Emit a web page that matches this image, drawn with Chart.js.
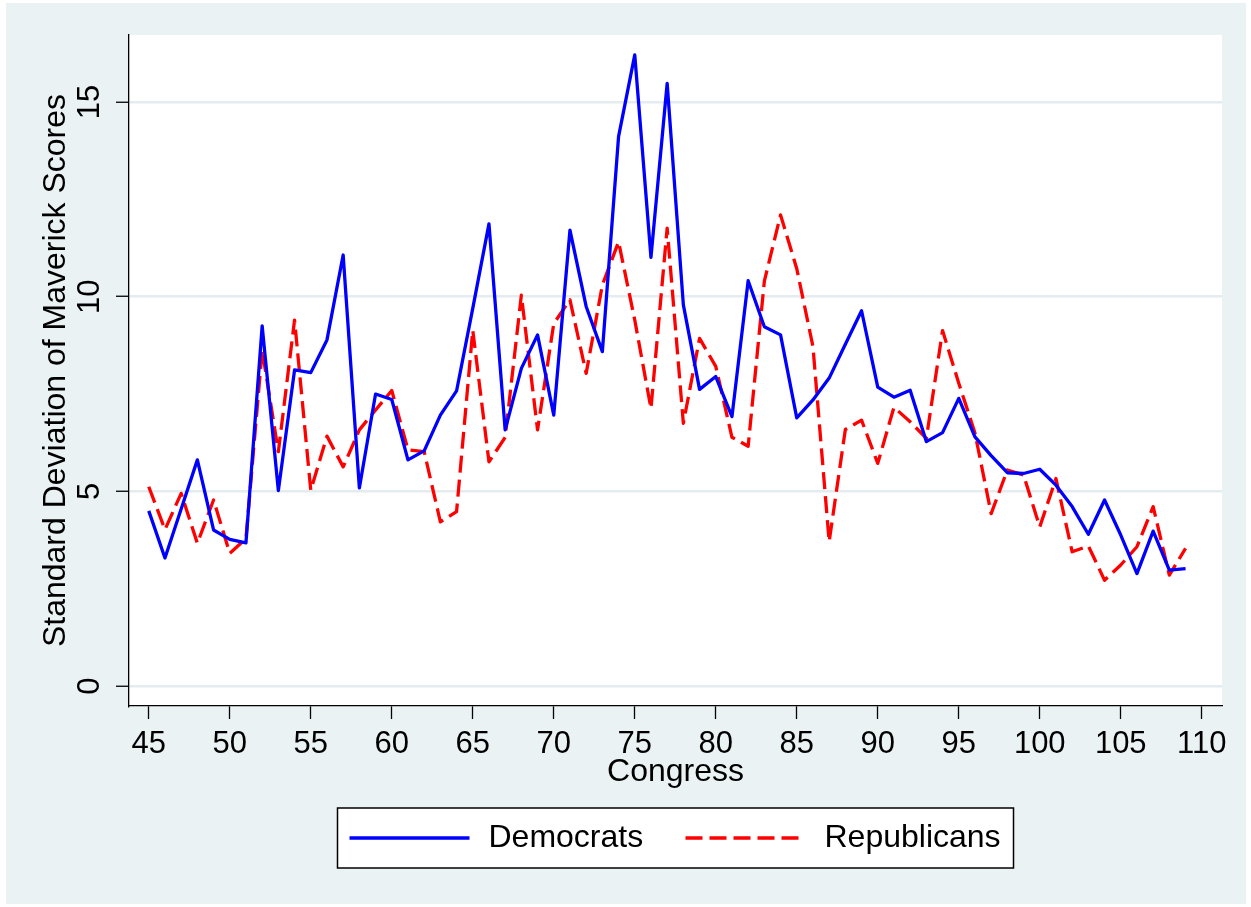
<!DOCTYPE html>
<html>
<head>
<meta charset="utf-8">
<script src="https://cdn.jsdelivr.net/npm/chart.js@4.4.1/dist/chart.umd.min.js"></script>
<style>
  html, body { margin: 0; padding: 0; background: #fff; }
  #chart { display: block; }
</style>
</head>
<body>
<canvas id="chart" width="1251" height="907"></canvas>
<script>
const congress = [45, 46, 47, 48, 49, 50, 51, 52, 53, 54, 55, 56, 57, 58, 59, 60, 61, 62, 63, 64,
  65, 66, 67, 68, 69, 70, 71, 72, 73, 74, 75, 76, 77, 78, 79, 80, 81, 82, 83, 84,
  85, 86, 87, 88, 89, 90, 91, 92, 93, 94, 95, 96, 97, 98, 99, 100, 101, 102, 103, 104,
  105, 106, 107, 108, 109];

const democrats = [4.50, 3.29, 4.55, 5.81, 4.01, 3.77, 3.68, 9.25, 5.02, 8.12, 8.05, 8.89, 11.07, 5.09, 7.50, 7.36, 5.81, 6.04, 6.96, 7.58,
  9.70, 11.87, 6.58, 8.16, 9.02, 6.96, 11.71, 9.75, 8.59, 14.11, 16.21, 11.01, 15.48, 9.79, 7.62, 7.95, 6.92, 10.41, 9.23, 9.02,
  6.89, 7.35, 7.91, 8.78, 9.64, 7.68, 7.42, 7.60, 6.28, 6.51, 7.39, 6.40, 5.92, 5.48, 5.46, 5.57, 5.16, 4.61, 3.90, 4.78,
  3.88, 2.89, 3.98, 2.98, 3.02];

const republicans = [5.12, 4.02, 4.95, 3.67, 4.78, 3.41, 3.79, 8.63, 6.02, 9.40, 5.03, 6.42, 5.63, 6.58, 7.09, 7.59, 6.07, 6.02, 4.22, 4.48,
  9.14, 5.76, 6.39, 10.04, 6.58, 9.31, 9.92, 8.03, 10.30, 11.41, 9.40, 7.13, 11.76, 6.75, 8.93, 8.21, 6.39, 6.16, 10.40, 12.10,
  10.72, 8.72, 3.71, 6.59, 6.83, 5.72, 7.16, 6.79, 6.36, 9.13, 7.78, 6.50, 4.43, 5.55, 5.42, 4.09, 5.33, 3.45, 3.60, 2.72,
  3.11, 3.58, 4.61, 2.85, 3.54];

const xTicks = [45, 50, 55, 60, 65, 70, 75, 80, 85, 90, 95, 100, 105, 110];
const yTicks = [0, 5, 10, 15];

const FONT = '"Liberation Sans", Arial, Helvetica, sans-serif';

const toPoints = values => congress.map((c, i) => ({ x: c, y: values[i] }));

const background = {
  id: 'background',
  beforeDraw(chart) {
    const { ctx, chartArea } = chart;
    ctx.save();
    ctx.fillStyle = '#ffffff';
    ctx.fillRect(0, 0, chart.width, chart.height);
    ctx.fillStyle = '#eaf2f3';
    ctx.fillRect(6, 3, chart.width - 11, chart.height - 6);
    ctx.fillStyle = '#ffffff';
    ctx.fillRect(chartArea.left, chartArea.top, chartArea.right - chartArea.left, chartArea.bottom - chartArea.top);
    ctx.restore();
  }
};

// Stata-style boxed legend under the x axis title
const legendBox = {
  id: 'legendBox',
  afterDraw(chart) {
    const { ctx, chartArea } = chart;
    const cx = (chartArea.left + chartArea.right) / 2;
    const w = 676, h = 60, top = 808;
    const left = cx - w / 2;
    const offsets = [12, 348];
    ctx.save();
    ctx.fillStyle = '#ffffff';
    ctx.fillRect(left, top, w, h);
    ctx.strokeStyle = '#000000';
    ctx.lineWidth = 1.5;
    ctx.strokeRect(left, top, w, h);
    ctx.font = '32px ' + FONT;
    ctx.textBaseline = 'middle';
    ctx.textAlign = 'left';
    chart.data.datasets.forEach((ds, i) => {
      const x = left + offsets[i];
      const y = top + h / 2;
      ctx.strokeStyle = ds.borderColor;
      ctx.lineWidth = ds.borderWidth;
      ctx.setLineDash(ds.borderDash || []);
      ctx.beginPath();
      ctx.moveTo(x, y);
      ctx.lineTo(x + 120, y);
      ctx.stroke();
      ctx.setLineDash([]);
      ctx.fillStyle = '#000000';
      ctx.fillText(ds.label, x + 139, y);
    });
    ctx.restore();
  }
};

const ctx = document.querySelector('#chart').getContext('2d');

new Chart(ctx, {
  type: 'line',
  data: {
    datasets: [{
      label: 'Democrats',
      data: toPoints(democrats),
      borderColor: '#0000ff',
      borderWidth: 3.3,
      pointRadius: 0,
      tension: 0,
      borderJoinStyle: 'round'
    }, {
      label: 'Republicans',
      data: toPoints(republicans),
      borderColor: '#ff0000',
      borderWidth: 3.3,
      borderDash: [17, 7],
      pointRadius: 0,
      tension: 0,
      borderJoinStyle: 'round'
    }]
  },
  options: {
    responsive: false,
    animation: false,
    layout: { padding: { left: 0, top: 35, right: 29, bottom: 116 } },
    plugins: {
      legend: { display: false },
      tooltip: { enabled: false }
    },
    scales: {
      x: {
        type: 'linear',
        min: 43.78,
        max: 111.25,
        afterBuildTicks: axis => { axis.ticks = xTicks.map(v => ({ value: v })); },
        afterFit: axis => { axis.height = 85; },
        border: { color: '#000000', width: 1.3 },
        grid: { drawOnChartArea: false, drawTicks: true, tickLength: 13, tickColor: '#000000', tickWidth: 1.3 },
        ticks: {
          autoSkip: false,
          maxRotation: 0,
          padding: 7,
          color: '#000000',
          font: { family: FONT, size: 31 }
        },
        title: {
          display: true,
          text: 'Congress',
          color: '#000000',
          padding: { top: 0, bottom: 0 },
          font: { family: FONT, size: 32 }
        }
      },
      y: {
        type: 'linear',
        min: -0.51,
        max: 16.72,
        afterBuildTicks: axis => { axis.ticks = yTicks.map(v => ({ value: v })); },
        afterFit: axis => { axis.width = 129; },
        border: { color: '#000000', width: 1.3 },
        grid: { color: '#e4ecef', lineWidth: 2.5, drawTicks: true, tickLength: 13, tickColor: '#000000', tickWidth: 1.3 },
        ticks: {
          minRotation: 90,
          maxRotation: 90,
          crossAlign: 'center',
          padding: 8,
          color: '#000000',
          font: { family: FONT, size: 31 }
        },
        title: {
          display: true,
          text: 'Standard Deviation of Maverick Scores',
          color: '#000000',
          padding: { top: 37, bottom: 0 },
          font: { family: FONT, size: 32 }
        }
      }
    }
  },
  plugins: [background, legendBox]
});
</script>
</body>
</html>
